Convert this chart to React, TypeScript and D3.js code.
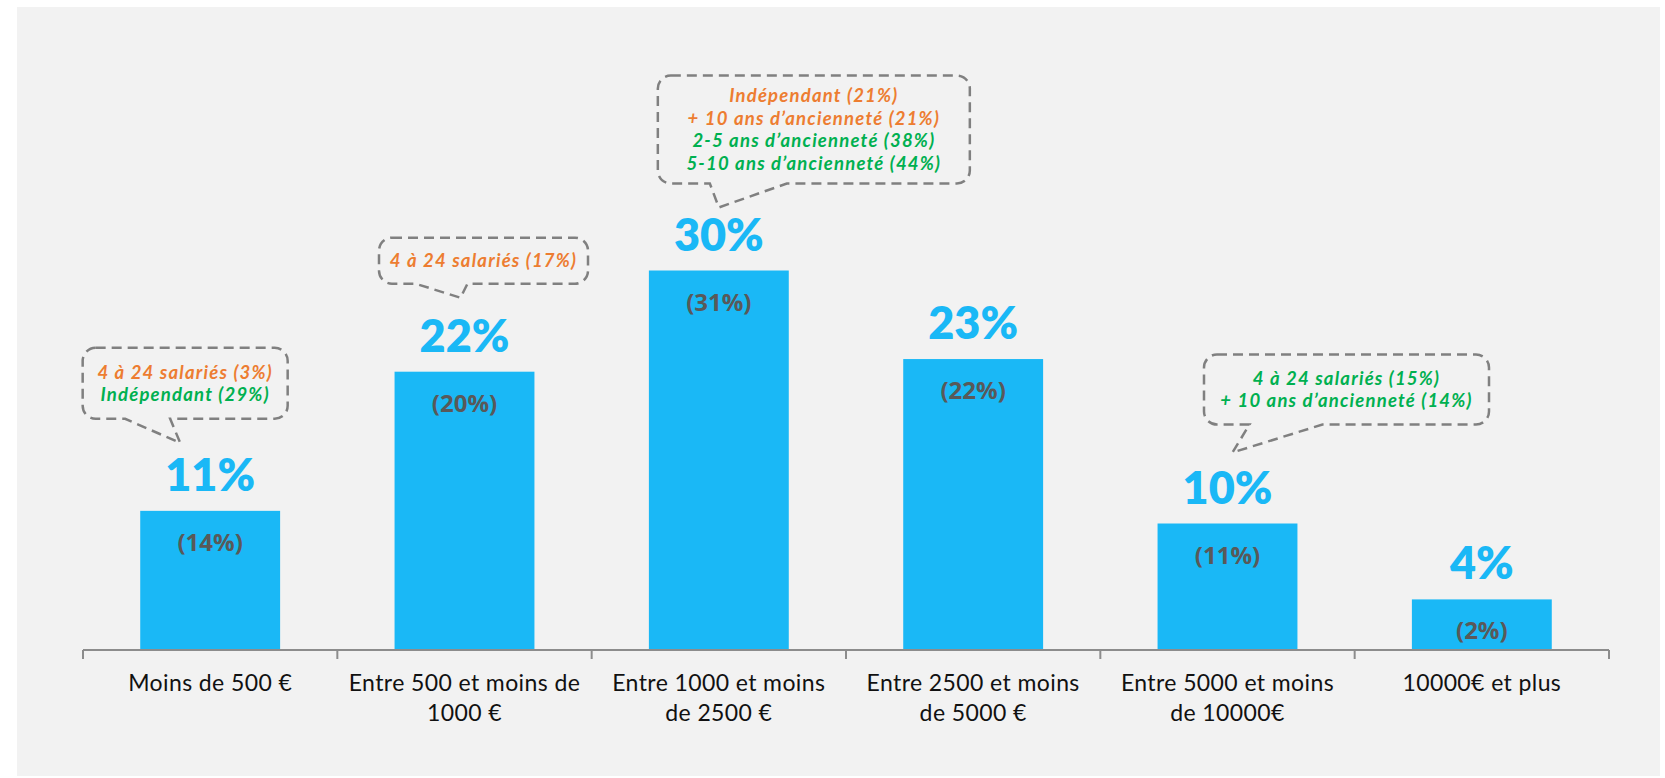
import React, { useEffect, useRef } from "react";
import * as d3 from "d3";

// ── Données ─────────────────────────────────────────────────────────────
const categories = [
    "Moins de 500 €",
    "Entre 500 et moins de 1000 €",
    "Entre 1000 et moins de 2500 €",
    "Entre 2500 et moins de 5000 €",
    "Entre 5000 et moins de 10000€",
    "10000€ et plus",
];
const labelLines = [
    ["Moins de 500 €"],
    ["Entre 500 et moins de", "1000 €"],
    ["Entre 1000 et moins", "de 2500 €"],
    ["Entre 2500 et moins", "de 5000 €"],
    ["Entre 5000 et moins", "de 10000€"],
    ["10000€ et plus"],
];
const values = [11, 22, 30, 23, 10, 4];
const previousValues = [14, 20, 31, 22, 11, 2];

const calloutBars = [0, 1, 2, 4];
const calloutTexts = [
    ["4 à 24 salariés (3%)", "Indépendant (29%)"],
    ["4 à 24 salariés (17%)"],
    ["Indépendant (21%)", "+ 10 ans d’ancienneté (21%)", "2-5 ans d’ancienneté (38%)", "5-10 ans d’ancienneté (44%)"],
    ["4 à 24 salariés (15%)", "+ 10 ans d’ancienneté (14%)"],
];
const calloutColors = [
    ["orange", "green"],
    ["orange"],
    ["orange", "orange", "green", "green"],
    ["green", "green"],
];

// ── Mise en page des bulles (relative au sommet de la barre) ───────────
const calloutLayout = [
    { tipDx: -30, tipDy: -68, boxDx: -25, w: 205, h: 71, tail: 24, baseL: -55, baseR: -10 },
    { tipDx: -4, tipDy: -74, boxDx: 19, w: 209, h: 46, tail: 14, baseL: -45, baseR: 7 },
    { tipDx: 0, tipDy: -63, boxDx: 95, w: 312, h: 108, tail: 24, baseL: -9, baseR: 68 },
    { tipDx: 5, tipDy: -71, boxDx: 119, w: 285, h: 70, tail: 28, baseL: 17, baseR: 90 },
];

const COLORS: Record<string, string> = { orange: "#ED7D31", green: "#00B050" };
const BLUE = "#1AB8F6";

const App: React.FC = () => {
    const svgRef = useRef<SVGSVGElement | null>(null);

    useEffect(() => {
        if (!svgRef.current) return;
        const WIDTH = 1665;
        const HEIGHT = 778;
        const AXIS_Y = 650;

        const svg = d3.select(svgRef.current);
        svg.selectAll("*").remove();
        svg.attr("width", WIDTH).attr("height", HEIGHT);

        svg.append("rect").attr("width", WIDTH).attr("height", HEIGHT).attr("fill", "#ffffff");
        svg.append("rect")
            .attr("x", 17).attr("y", 7)
            .attr("width", 1643).attr("height", 769)
            .attr("fill", "#f2f2f2");

        // ── Échelles ───────────────────────────────────────────────────────
        const x = d3.scaleBand<string>()
            .domain(categories)
            .range([83, 1609])
            .paddingInner(0.45)
            .paddingOuter(0.225);
        const y = d3.scaleLinear().domain([0, 40]).range([AXIS_Y, AXIS_Y - 506]);
        const step = x.step();

        // ── Barres ─────────────────────────────────────────────────────────
        svg.selectAll("rect.bar")
            .data(values)
            .enter()
            .append("rect")
            .attr("class", "bar")
            .attr("x", (_, i) => x(categories[i])!)
            .attr("y", (d) => y(d))
            .attr("width", x.bandwidth())
            .attr("height", (d) => AXIS_Y - y(d))
            .attr("fill", BLUE);

        // ── Axe ────────────────────────────────────────────────────────────
        const axis = svg.append("g").attr("stroke", "#8c8c8c").attr("stroke-width", 2);
        axis.append("line").attr("x1", 83).attr("x2", 1609).attr("y1", AXIS_Y).attr("y2", AXIS_Y);
        d3.range(categories.length + 1).forEach((i) => {
            const tx = 83 + i * step;
            axis.append("line").attr("x1", tx).attr("x2", tx).attr("y1", AXIS_Y).attr("y2", AXIS_Y + 9);
        });

        categories.forEach((c, i) => {
            const cx = x(c)! + x.bandwidth() / 2;
            const t = svg.append("text")
                .attr("text-anchor", "middle")
                .attr("font-family", "Lato, sans-serif")
                .attr("font-size", 23)
                .attr("letter-spacing", 0.4)
                .attr("fill", "#111111");
            labelLines[i].forEach((line, j) => {
                t.append("tspan").attr("x", cx).attr("y", 691 + j * 30).text(line);
            });
        });

        // ── Étiquettes de valeurs ──────────────────────────────────────────
        values.forEach((v, i) => {
            const cx = x(categories[i])! + x.bandwidth() / 2;
            svg.append("text")
                .attr("x", cx).attr("y", y(v) - 20)
                .attr("text-anchor", "middle")
                .attr("font-family", "Lato, sans-serif")
                .attr("font-weight", 800)
                .attr("font-size", 45)
                .attr("fill", BLUE)
                .text(`${v}%`);
            svg.append("text")
                .attr("x", cx).attr("y", y(v) + 40)
                .attr("text-anchor", "middle")
                .attr("font-family", "'Open Sans', sans-serif")
                .attr("font-weight", 700)
                .attr("font-size", 24)
                .attr("fill", "#595959")
                .text(`(${previousValues[i]}%)`);
        });

        // ── Bulles ─────────────────────────────────────────────────────────
        calloutBars.forEach((b, k) => {
            const L = calloutLayout[k];
            const cx = x(categories[b])! + x.bandwidth() / 2;
            const tipX = cx + L.tipDx;
            const tipY = y(values[b]) + L.tipDy;
            const bottom = tipY - L.tail;
            const top = bottom - L.h;
            const x0 = cx + L.boxDx - L.w / 2;
            const x1 = cx + L.boxDx + L.w / 2;
            const r = 13;
            const p = d3.path();
            p.moveTo(x0 + r, top);
            p.lineTo(x1 - r, top);
            p.arcTo(x1, top, x1, top + r, r);
            p.lineTo(x1, bottom - r);
            p.arcTo(x1, bottom, x1 - r, bottom, r);
            p.lineTo(tipX + L.baseR, bottom);
            p.lineTo(tipX, tipY);
            p.lineTo(tipX + L.baseL, bottom);
            p.lineTo(x0 + r, bottom);
            p.arcTo(x0, bottom, x0, bottom - r, r);
            p.lineTo(x0, top + r);
            p.arcTo(x0, top, x0 + r, top, r);
            p.closePath();
            svg.append("path")
                .attr("d", p.toString())
                .attr("fill", "none")
                .attr("stroke", "#808080")
                .attr("stroke-width", 2.5)
                .attr("stroke-dasharray", "10 6");

            const n = calloutTexts[k].length;
            const cy = (top + bottom) / 2;
            calloutTexts[k].forEach((line, j) => {
                svg.append("text")
                    .attr("x", cx + L.boxDx)
                    .attr("y", cy + (j - (n - 1) / 2) * 22.5 + 6.5)
                    .attr("text-anchor", "middle")
                    .attr("font-family", "Lato, sans-serif")
                    .attr("font-weight", 700)
                    .attr("font-style", "italic")
                    .attr("font-size", 18.5)
                    .attr("letter-spacing", 1.2)
                    .attr("fill", COLORS[calloutColors[k][j]])
                    .text(line);
            });
        });
    }, []);

    return (
        <div style={{ position: "absolute", left: 0, top: 0 }}>
            <svg ref={svgRef} style={{ display: "block" }} />
        </div>
    );
};

export default App;
